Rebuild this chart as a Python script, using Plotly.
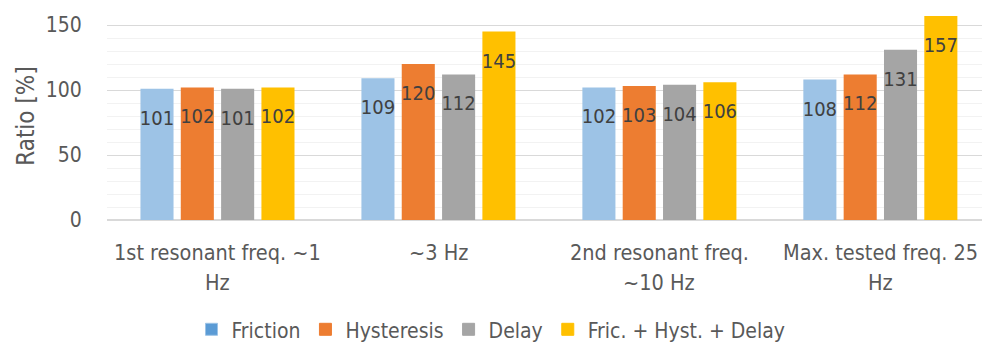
import plotly.graph_objects as go

# Frequency cases and ratio values per model variant
categories = ["1st resonant freq. ~1 Hz", "~3 Hz", "2nd resonant freq. ~10 Hz", "Max. tested freq. 25 Hz"]
label_lines = [["1st resonant freq. ~1", "Hz"], ["~3 Hz"], ["2nd resonant freq.", "~10 Hz"], ["Max. tested freq. 25", "Hz"]]
friction = [101, 109, 102, 108]
hysteresis = [102, 120, 103, 112]
delay = [101, 112, 104, 131]
combined = [102, 145, 106, 157]

series = [
    ("Friction", friction, "#9DC3E6", "#5B9BD5"),
    ("Hysteresis", hysteresis, "#ED7D31", "#ED7D31"),
    ("Delay", delay, "#A5A5A5", "#A5A5A5"),
    ("Fric. + Hyst. + Delay", combined, "#FFC000", "#FFC000"),
]

FONT = "Liberation Sans Narrow, DejaVu Sans Condensed, Arial Narrow, sans-serif"
TXT = "#595959"
x_idx = list(range(len(categories)))

fig = go.Figure()
for i, (name, vals, color, legend_color) in enumerate(series):
    fig.add_trace(go.Bar(
        x=x_idx, y=vals, name=name, offsetgroup=str(i),
        marker=dict(color=color, line=dict(width=0)),
        showlegend=False,
    ))
for i, (name, vals, color, legend_color) in enumerate(series):
    # value labels, grouped to sit over their bars
    fig.add_trace(go.Scatter(
        x=x_idx, y=vals, mode="markers+text", offsetgroup=str(i),
        text=[str(v) for v in vals], textposition="bottom center",
        textfont=dict(family=FONT, size=20, color="#404040"),
        marker=dict(size=32, color="rgba(0,0,0,0)"),
        showlegend=False, hoverinfo="skip",
    ))
for name, vals, color, legend_color in series:
    fig.add_trace(go.Bar(
        x=[None], y=[None], name=name,
        marker=dict(color=legend_color, line=dict(color=color, width=1)),
        showlegend=True,
    ))

annotations = []
for i, lines in enumerate(label_lines):
    for j, line in enumerate(lines):
        annotations.append(dict(
            x=i, y=0, xref="x", yref="y", text=line, showarrow=False,
            yanchor="middle", yshift=-32 - 30 * j,
            font=dict(family=FONT, size=21.5, color=TXT),
        ))

fig.update_layout(
    width=982, height=347,
    margin=dict(l=107, r=0, t=12, b=127),
    paper_bgcolor="white", plot_bgcolor="white",
    barmode="group", bargap=0.27, bargroupgap=0.18,
    scattermode="group", scattergap=0.27,
    font=dict(family=FONT, size=20, color=TXT),
    xaxis=dict(range=[-0.5, 3.46], showticklabels=False, showgrid=False,
               zeroline=False, showline=False, fixedrange=True),
    yaxis=dict(range=[0, 160], tickvals=[0, 50, 100, 150], showgrid=True,
               gridcolor="#D9D9D9", gridwidth=1,
               minor=dict(dtick=10, showgrid=True, gridcolor="#F2F2F2", gridwidth=1),
               zeroline=True, zerolinecolor="#D9D9D9", zerolinewidth=2,
               ticks="outside", ticklen=20, tickcolor="rgba(0,0,0,0)",
               tickfont=dict(family=FONT, size=21, color=TXT),
               title=dict(text="Ratio [%]", standoff=4,
                          font=dict(family=FONT, size=24, color=TXT))),
    legend=dict(orientation="h", xref="container", yref="container",
                x=0.5, xanchor="center", y=0.05, yanchor="middle",
                font=dict(family=FONT, size=21, color=TXT),
                itemwidth=30, tracegroupgap=0),
    annotations=annotations,
)

fig.write_html("out.html")
